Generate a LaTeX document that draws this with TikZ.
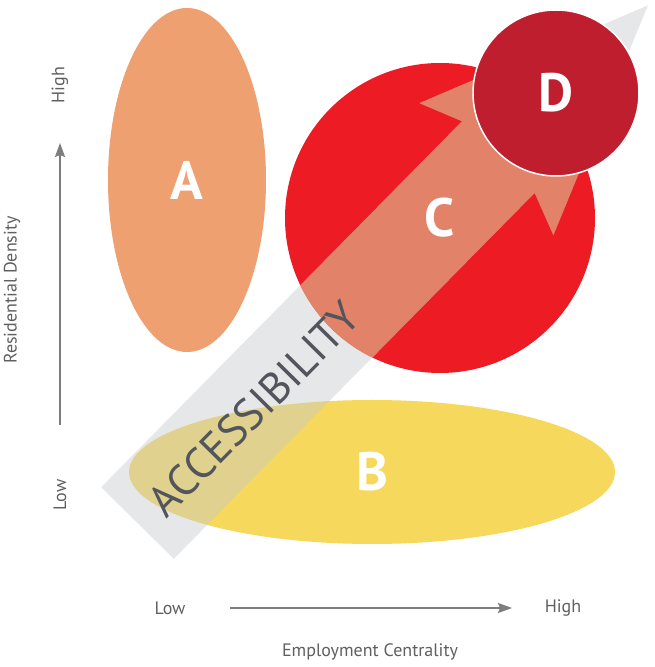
\documentclass[tikz,border=0pt]{standalone}
\usepackage{fontspec}
\setmainfont{PT Sans}
\usepackage{tikz}
\usetikzlibrary{shapes.geometric, arrows.meta, positioning}
\usepackage{xcolor}

\definecolor{zoneA}{RGB}{238,160,112}
\definecolor{zoneB}{RGB}{246,216,92}
\definecolor{zoneC}{RGB}{237,28,36}
\definecolor{zoneD}{RGB}{190,30,45}
\definecolor{bandgray}{RGB}{200,202,206}
\definecolor{bandsalmon}{RGB}{226,130,104}
\definecolor{axisgray}{RGB}{125,125,125}
\definecolor{labelgray}{RGB}{95,95,95}
\definecolor{bandtext}{RGB}{82,86,92}

\newcommand{\bandpath}{(0,-51) -- (514,-51) -- (497,-94) -- (727,0)
	-- (497,94) -- (514,51) -- (0,51) -- cycle}

\begin{document}
\begin{tikzpicture}[
		x=1pt, y=1pt,
		zone/.style={
			ellipse,
			inner sep=0pt,
			draw=none
		},
		letter/.style={
			text=white,
			font=\fontsize{54}{54}\selectfont\bfseries
		},
		axis/.style={
			draw=axisgray,
			line width=1.3pt,
			-{Stealth[length=14pt, width=10pt, inset=2pt]}
		},
		axislabel/.style={
			text=labelgray,
			font=\fontsize{18}{18}\selectfont
		},
		band/.style={
			fill=bandgray,
			fill opacity=0.45
		}
		]
		\useasboundingbox (0,0) rectangle (654,667);
		
		% --- Zones ---
		\node[zone, fill=zoneA, minimum width=158pt, minimum height=344pt] (zA) at (187,487) {};
		\node[zone, fill=zoneB, minimum width=486pt, minimum height=144pt] (zB) at (372,195) {};
		\node[circle, inner sep=0pt, fill=zoneC, minimum size=310pt] (zC) at (440,449) {};
		
		% --- Accessibility band ---
		\begin{scope}[shift={(137.5,144)}, rotate=45.4]
			\fill[band] \bandpath;
			% part inside C is drawn in salmon
			\begin{scope}
				\path[clip] (zC.center) circle[radius=155];
				\fill[bandsalmon] \bandpath;
			\end{scope}
			\node[rotate=45.4, text=bandtext,
				font=\fontsize{44}{44}\selectfont] (access) at (163,-3) {ACCESSIBILITY};
		\end{scope}
		
		% --- Top zone ---
		\node[circle, inner sep=0pt, fill=zoneD, draw=white, line width=1.5pt,
			minimum size=166pt] (zD) at (556,574) {};
		
		% --- Letters ---
		\node[letter] at (zA) {A};
		\node[letter] at (zB) {B};
		\node[letter] at (zC) {C};
		\node[letter] at (zD) {D};
		
		% --- Axes ---
		\coordinate (ybot) at (60,242);
		\coordinate (ytop) at (60,524);
		\coordinate (xleft) at (230,59);
		\coordinate (xright) at (512,59);
		\draw[axis] (ybot) -- (ytop);
		\draw[axis] (xleft) -- (xright);
		
		\node[axislabel, rotate=90] (yhigh) at (60,582) {High};
		\node[axislabel, rotate=90] (ylow) at (60,172) {Low};
		\node[axislabel, rotate=90] (ytitle) at (12,377) {Residential Density};
		\node[axislabel] (xlow) at (170,59) {Low};
		\node[axislabel] (xhigh) at (563,59) {High};
		\node[axislabel] (xtitle) at (370,15) {Employment Centrality};
		
	\end{tikzpicture}
\end{document}
